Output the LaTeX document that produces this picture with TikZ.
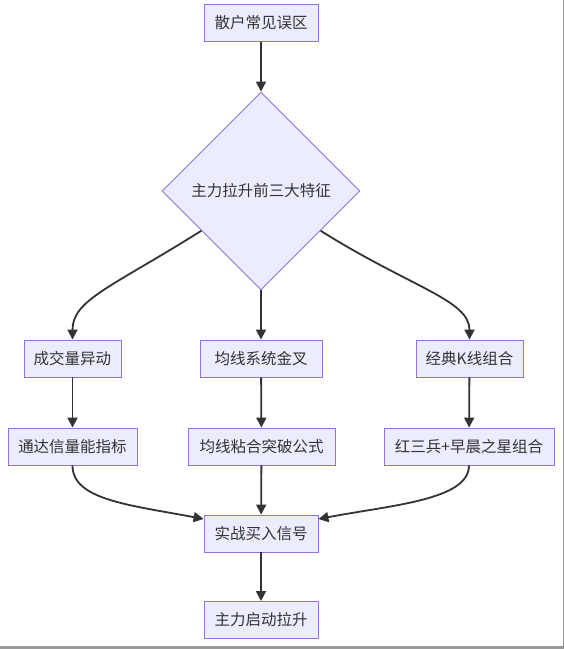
\documentclass[tikz,border=0pt]{standalone}
\usepackage{fontspec}
\setmainfont{Noto Sans CJK SC}
\usetikzlibrary{shapes.geometric,arrows.meta,calc}
\definecolor{boxfill}{HTML}{ECECFF}
\definecolor{boxline}{HTML}{9370DB}
\definecolor{ink}{HTML}{333333}
\definecolor{framegray}{HTML}{999999}
\begin{document}
\begin{tikzpicture}[x=1pt,y=-1pt,
  box/.style={draw=boxline,fill=boxfill,line width=0.9pt,text=ink,font=\fontsize{15.5pt}{18pt}\selectfont,
    minimum height=37pt,inner xsep=0pt,inner ysep=0pt},
  dia/.style={diamond,draw=boxline,fill=boxfill,line width=0.9pt,text=ink,font=\fontsize{15.5pt}{18pt}\selectfont,
    minimum width=198pt,minimum height=198pt,inner sep=0pt},
  conn/.style={draw=ink,line width=1.8pt,-{Triangle[length=10pt,width=10pt]}}]
\useasboundingbox (0,0) rectangle (564,649);
\fill[white] (0,0) rectangle (564,649);
\draw[framegray,line width=1pt] (563,0) -- (563,647);
\draw[framegray,line width=2.5pt] (0,647.5) -- (564,647.5);

\node[box,minimum width=114pt] (a) at (261,23) {散户常见误区};
\node[dia] (d) at (261,191) {主力拉升前三大特征};
\node[box,minimum width=97pt] (b1) at (72.5,358.5) {成交量异动};
\node[box,minimum width=122pt] (b2) at (261,358.5) {均线系统金叉};
\node[box,minimum width=107pt] (b3) at (469.5,358.5) {经典K线组合};
\node[box,minimum width=129pt] (c1) at (72.5,446.5) {通达信量能指标};
\node[box,minimum width=147pt] (c2) at (261.5,446.5) {均线粘合突破公式};
\node[box,minimum width=170pt] (c3) at (469,446.5) {红三兵+早晨之星组合};
\node[box,minimum width=114pt] (e) at (261,533.5) {实战买入信号};
\node[box,minimum width=114pt] (f) at (261,620) {主力启动拉升};

\coordinate (dl) at ($(d.west)!0.4!(d.south)$);
\coordinate (dr) at ($(d.east)!0.4!(d.south)$);

\draw[conn] (a) -- (d);
\draw[conn] (dl) .. controls (110,288) and (72.5,300) .. (b1.north);
\draw[conn] (d) -- (b2);
\draw[conn] (dr) .. controls (412,288) and (469.5,300) .. (b3.north);
\draw[conn] (b1) -- (c1);
\draw[conn] (b2) -- (c2);
\draw[conn] (b3) -- (c3);
\draw[conn] (c1.south) .. controls (72.5,500) and (130,505) .. (e.north west |- 0,519);
\draw[conn] (c2) -- (e);
\draw[conn] (c3.south) .. controls (469,500) and (392,505) .. (e.north east |- 0,519);
\draw[conn] (e) -- (f);
\end{tikzpicture}
\end{document}
